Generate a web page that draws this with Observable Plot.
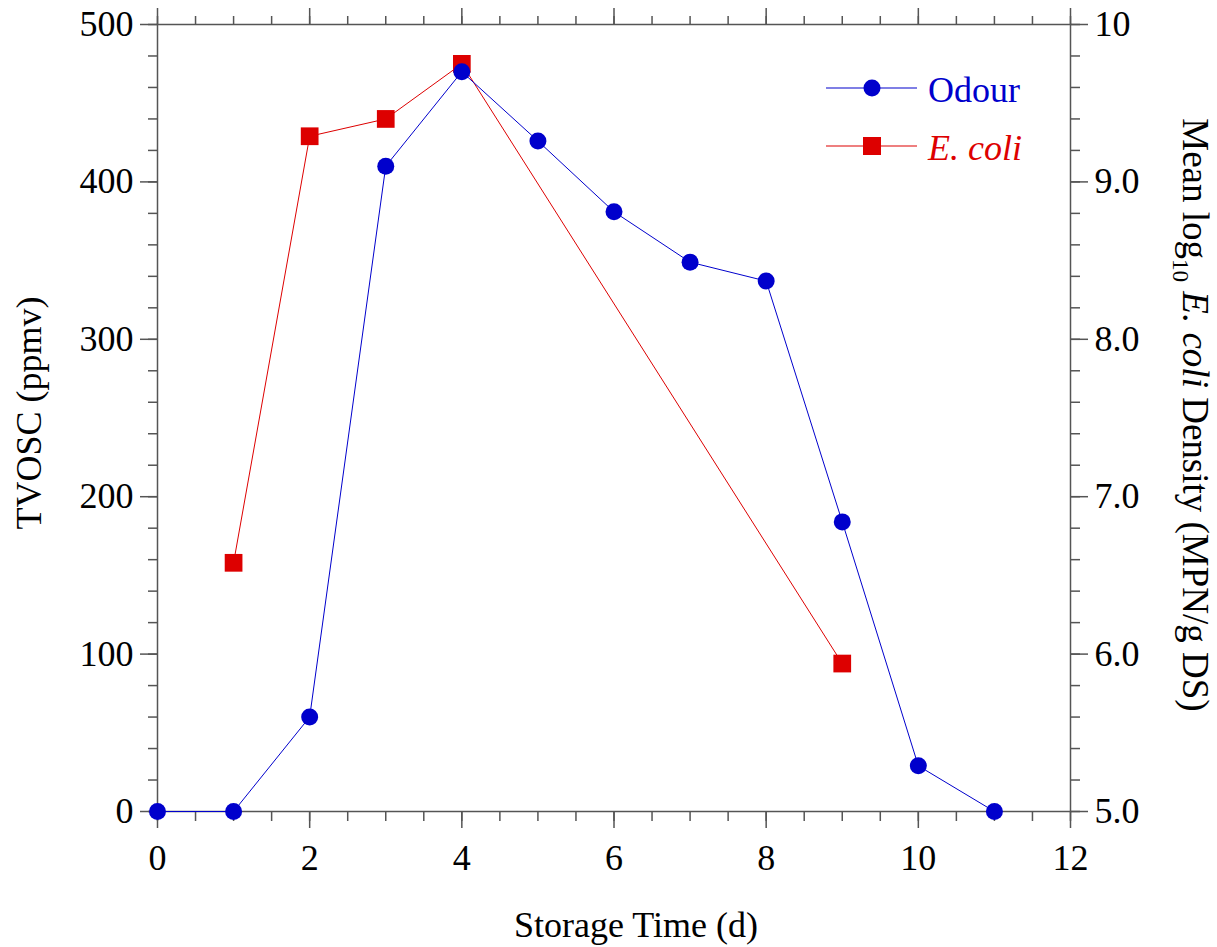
<!DOCTYPE html>
<html>
<head>
<meta charset="utf-8">
<script src="https://cdn.jsdelivr.net/npm/d3@7"></script>
<script src="https://cdn.jsdelivr.net/npm/@observablehq/plot@0.6"></script>
<style>
  html, body { margin: 0; padding: 0; background: #fff; }
  #chart svg { display: block; }
</style>
</head>
<body>
<div id="chart"></div>
<script>
// ---- data ----
const days = [0, 1, 2, 3, 4, 5, 6, 7, 8, 9, 10, 11];
const odour = [0, 0, 60, 410, 470, 426, 381, 349, 337, 184, 29, 0];           // TVOSC (ppmv), left axis
const ecoliDays = [1, 2, 3, 4, 9];
const ecoli = [6.58, 9.29, 9.40, 9.75, 5.94];                                // mean log10 E. coli, right axis

const xTicks = [0, 2, 4, 6, 8, 10, 12];
const xMinorTicks = d3.range(0, 12.01, 0.5);
const yTicks = [0, 100, 200, 300, 400, 500];
const yMinorTicks = d3.range(0, 500.01, 20);
const rightTicks = [5, 6, 7, 8, 9, 10];
const rightTickLabels = ["5.0", "6.0", "7.0", "8.0", "9.0", "10"];
const rightMinorTicks = d3.range(5, 10.001, 0.2);

// right axis [5,10] mapped onto left axis [0,500]
const toLeft = v => (v - 5) * 100;

const odourData = days.map((d, i) => ({day: d, v: odour[i]}));
const ecoliData = ecoliDays.map((d, i) => ({day: d, v: toLeft(ecoli[i])}));

const BLUE = "#0000cc";
const RED = "#dd0000";
const AX = "#555";

const svg = Plot.plot({
  width: 1217,
  height: 947,
  marginLeft: 157,
  marginRight: 147,
  marginTop: 24,
  marginBottom: 136,
  style: {fontFamily: "'Liberation Serif', 'Times New Roman', serif", fontSize: "36px", background: "#fff", color: "#000"},
  x: {domain: [0, 12], axis: null, label: null},
  y: {domain: [0, 500], axis: null, label: null},
  marks: [
    // bottom axis
    Plot.axisX({anchor: "bottom", ticks: xTicks, tickSize: 17, tickPadding: 16, label: null, stroke: AX, strokeWidth: 1.5, fill: "#000"}),
    Plot.axisX({anchor: "bottom", ticks: xMinorTicks, tickSize: 10, tickFormat: () => "", label: null, stroke: AX, strokeWidth: 1.5}),
    // top axis
    Plot.axisX({anchor: "top", ticks: xTicks, tickSize: 17, tickFormat: () => "", label: null, stroke: AX, strokeWidth: 1.5}),
    Plot.axisX({anchor: "top", ticks: xMinorTicks, tickSize: 9, tickFormat: () => "", label: null, stroke: AX, strokeWidth: 1.5}),
    // left axis
    Plot.axisY({anchor: "left", ticks: yTicks, tickSize: 17, tickPadding: 7, label: null, stroke: AX, strokeWidth: 1.5, fill: "#000"}),
    Plot.axisY({anchor: "left", ticks: yMinorTicks, tickSize: 9, tickFormat: () => "", label: null, stroke: AX, strokeWidth: 1.5}),
    // right axis
    Plot.axisY({anchor: "right", ticks: rightTicks.map(toLeft), tickSize: 17, tickPadding: 7, label: null,
      tickFormat: d => rightTickLabels[rightTicks.indexOf(Math.round(d / 100 + 5))], stroke: AX, strokeWidth: 1.5, fill: "#000"}),
    Plot.axisY({anchor: "right", ticks: rightMinorTicks.map(toLeft), tickSize: 9, tickFormat: () => "", label: null, stroke: AX, strokeWidth: 1.5}),
    Plot.frame({stroke: AX, strokeWidth: 1.5}),
    // data
    Plot.line(ecoliData, {x: "day", y: "v", stroke: RED, strokeWidth: 1}),
    Plot.line(odourData, {x: "day", y: "v", stroke: BLUE, strokeWidth: 1}),
    Plot.dot(ecoliData, {x: "day", y: "v", symbol: "square", r: 10, fill: RED, stroke: "none"}),
    Plot.dot(odourData, {x: "day", y: "v", r: 8.5, fill: BLUE, stroke: "none"})
  ]
});

const s = d3.select(svg);
const font = "'Liberation Serif', 'Times New Roman', serif";

// axis titles
s.append("text").attr("x", 636).attr("y", 937).attr("text-anchor", "middle")
  .attr("font-family", font).attr("font-size", 36).attr("fill", "#000").text("Storage Time (d)");

s.append("text").attr("transform", "translate(41,413) rotate(-90)").attr("text-anchor", "middle")
  .attr("font-family", font).attr("font-size", 36).attr("fill", "#000").text("TVOSC (ppmv)");

const rt = s.append("text").attr("transform", "translate(1183,415) rotate(90)").attr("text-anchor", "middle")
  .attr("font-family", font).attr("font-size", 37).attr("fill", "#000");
rt.append("tspan").text("Mean log");
rt.append("tspan").attr("font-size", 23).attr("dy", 10).text("10");
rt.append("tspan").attr("dy", -10).text(" ");
rt.append("tspan").attr("font-style", "italic").text("E. coli");
rt.append("tspan").text(" Density (MPN/g DS)");

// legend
const legend = [
  {label: "Odour", color: BLUE, symbol: "circle", y: 88, italic: false},
  {label: "E. coli", color: RED, symbol: "square", y: 146, italic: true}
];
legend.forEach(l => {
  s.append("line").attr("x1", 826).attr("x2", 917).attr("y1", l.y).attr("y2", l.y)
    .attr("stroke", l.color).attr("stroke-width", 1.2);
  if (l.symbol === "circle") {
    s.append("circle").attr("cx", 872).attr("cy", l.y).attr("r", 8.5).attr("fill", l.color);
  } else {
    s.append("rect").attr("x", 863).attr("y", l.y - 9).attr("width", 18).attr("height", 18).attr("fill", l.color);
  }
  s.append("text").attr("x", 928).attr("y", l.y + 14).attr("text-anchor", "start")
    .attr("font-family", font).attr("font-size", 36)
    .attr("fill", l.color).attr("font-style", l.italic ? "italic" : "normal").text(l.label);
});

document.getElementById("chart").appendChild(svg);
</script>
</body>
</html>
